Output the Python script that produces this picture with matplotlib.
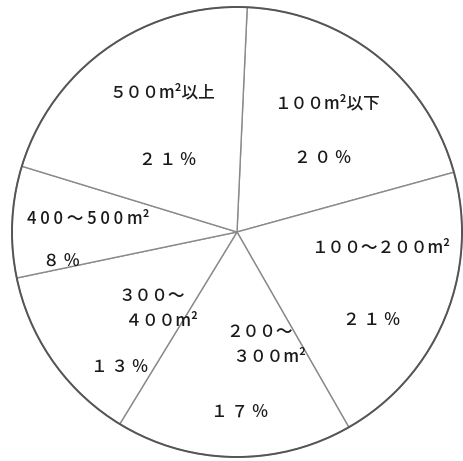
import matplotlib.pyplot as plt
from matplotlib.patches import Circle

plt.rcParams['font.family'] = ['Noto Sans CJK JP', 'DejaVu Sans']

# 住宅の床面積別の割合
categories = ['１００m²以下', '１００～２００m²', '２００～\n　 ３００m²',
              '３００～\n　 ４００m²', '4 0 0 ～ 5 0 0 m²', '５００m²以上']
shares = [20, 21, 17, 13, 8, 21]
pct_labels = ['２ ０ ％', '２ １ ％', '１ ７ ％', '１ ３ ％', '８ ％', '２ １ ％']

# label positions in pie units (centre 0,0, radius 1)
name_pos = [(0.40, 0.57), (0.64, -0.07), (0.10, -0.50),
            (-0.38, -0.34), (-0.66, 0.06), (-0.33, 0.62)]
pct_pos = [(0.38, 0.33), (0.60, -0.39), (0.01, -0.80),
           (-0.52, -0.60), (-0.78, -0.13), (-0.31, 0.32)]

fig = plt.figure(figsize=(4.63, 4.61), dpi=100)
ax = fig.add_axes([0, 0, 1, 1])

ax.pie(shares, startangle=87.4, counterclock=False, radius=1,
       colors=['white'] * len(shares),
       wedgeprops=dict(edgecolor='#8a8a8a', linewidth=1.0))
ax.add_patch(Circle((0, 0), 1, fill=False, edgecolor='#555555', linewidth=1.4))

for name, (x, y) in zip(categories, name_pos):
    ax.text(x, y, name, ha='center', va='center', fontsize=12,
            color='#1a1a1a', linespacing=1.5, fontweight='medium')
for pct, (x, y) in zip(pct_labels, pct_pos):
    ax.text(x, y, pct, ha='center', va='center', fontsize=12,
            color='#1a1a1a', fontweight='medium')

ax.set_xlim(-237 / 225, 226 / 225)
ax.set_ylim(-229 / 225, 232 / 225)
ax.set_aspect('auto')
ax.axis('off')

fig.savefig('out.png', dpi=100, facecolor='white')
